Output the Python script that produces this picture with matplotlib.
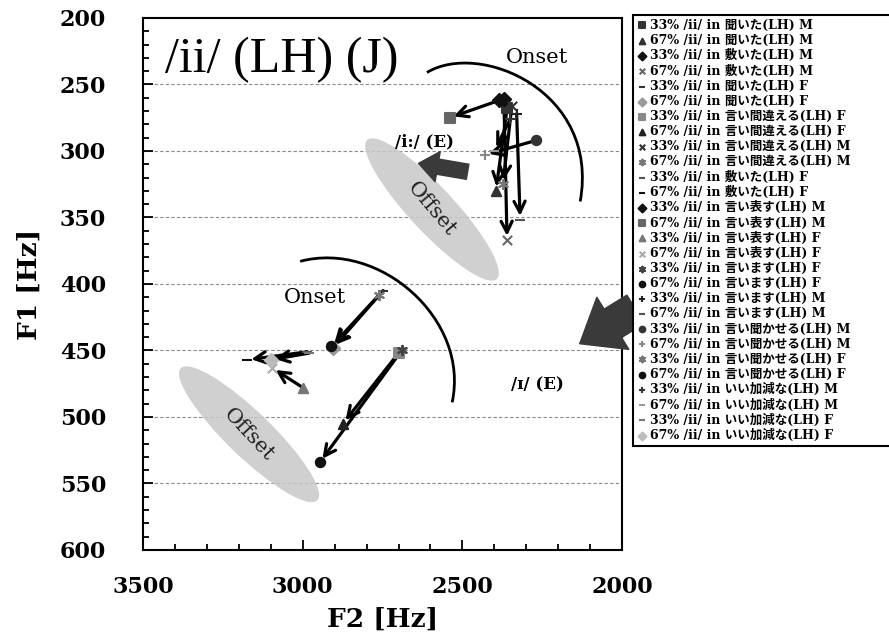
import matplotlib.pyplot as plt
from matplotlib.path import Path
from matplotlib.patches import PathPatch, Ellipse
from matplotlib.transforms import ScaledTranslation

# legend order: (label, F2, F1)
labels = [
    '33% /ii/ in 聞いた(LH) M', '67% /ii/ in 聞いた(LH) M',
    '33% /ii/ in 敷いた(LH) M', '67% /ii/ in 敷いた(LH) M',
    '33% /ii/ in 聞いた(LH) F', '67% /ii/ in 聞いた(LH) F',
    '33% /ii/ in 言い間違える(LH) F', '67% /ii/ in 言い間違える(LH) F',
    '33% /ii/ in 言い間違える(LH) M', '67% /ii/ in 言い間違える(LH) M',
    '33% /ii/ in 敷いた(LH) F', '67% /ii/ in 敷いた(LH) F',
    '33% /ii/ in 言い表す(LH) M', '67% /ii/ in 言い表す(LH) M',
    '33% /ii/ in 言い表す(LH) F', '67% /ii/ in 言い表す(LH) F',
    '33% /ii/ in 言います(LH) F', '67% /ii/ in 言います(LH) F',
    '33% /ii/ in 言います(LH) M', '67% /ii/ in 言います(LH) M',
    '33% /ii/ in 言い聞かせる(LH) M', '67% /ii/ in 言い聞かせる(LH) M',
    '33% /ii/ in 言い聞かせる(LH) F', '67% /ii/ in 言い聞かせる(LH) F',
    '33% /ii/ in いい加減な(LH) M', '67% /ii/ in いい加減な(LH) M',
    '33% /ii/ in いい加減な(LH) F', '67% /ii/ in いい加減な(LH) F',
]
f2 = [2360, 2395, 2370, 2360, 2748, 2905, 2700, 2874, 2345, 2373,
      2985, 3174, 2385, 2540, 2999, 3096, 2690, 2946, 2330, 2319,
      2268, 2430, 2760, 2910, 2350, 2400, 2980, 3100]
f1 = [268, 330, 261, 367, 405, 448, 452, 505, 266, 325,
      451, 457, 262, 275, 478, 463, 450, 534, 272, 352,
      292, 303, 408, 447, 276, 300, 452, 457]

markers = ['s', '^', 'D', 'x', '_', 'D', 's', '^', 'x', (6, 2, 0),
           '_', '_', 'D', 's', '^', 'x', (6, 2, 0), 'o', '+', '_',
           'o', '+', (6, 2, 0), 'o', '+', '_', '_', 'D']
colors = ['#333333', '#333333', '#111111', '#666666', '#333333', '#999999',
          '#888888', '#222222', '#333333', '#777777', '#555555', '#111111',
          '#111111', '#666666', '#777777', '#aaaaaa', '#444444', '#111111',
          '#222222', '#555555', '#333333', '#888888', '#777777', '#111111',
          '#333333', '#999999', '#777777', '#bbbbbb']

serif = ['DejaVu Serif', 'Noto Sans CJK JP']

fig = plt.figure(figsize=(8.89, 6.41), dpi=100)
ax = fig.add_axes([0.1609, 0.142, 0.5388, 0.830])

ax.set_xlim(3500, 2000)
ax.set_ylim(600, 200)
for g in range(250, 600, 50):
    ax.axhline(g, color='#8a8a8a', lw=0.8, ls=(0, (3, 2)), zorder=0)

# offset ellipses (size in inches, centred on data point)
for cx, cy, ang in [(2595, 344, -47), (3168, 513, -44)]:
    tr = fig.dpi_scale_trans + ScaledTranslation(cx, cy, ax.transData)
    ax.add_patch(Ellipse((0, 0), 1.9, 0.45, angle=ang, transform=tr,
                         fc='#c8c8c8', ec='none', alpha=0.85, zorder=1))
    ax.text(cx, cy, 'Offset', rotation=ang - 3, ha='center', va='center',
            fontsize=15, family='DejaVu Serif', color='#222222', zorder=2)

# onset arcs
arcs = [[(2611, 241), (2445, 217), (2069, 255), (2131, 338)],
        [(3008, 383), (2758, 367), (2476, 427), (2532, 489)]]
for pts in arcs:
    p = Path(pts, [Path.MOVETO, Path.CURVE4, Path.CURVE4, Path.CURVE4])
    ax.add_patch(PathPatch(p, fc='none', ec='black', lw=2, zorder=3))
ax.text(2266, 230, 'Onset', ha='center', va='center', fontsize=15,
        family='DejaVu Serif')
ax.text(2961, 410, 'Onset', ha='center', va='center', fontsize=15,
        family='DejaVu Serif')

# movement arrows 33% -> 67%
for i in range(0, len(f2), 2):
    ax.annotate('', xy=(f2[i + 1], f1[i + 1]), xytext=(f2[i], f1[i]),
                arrowprops=dict(arrowstyle='->', lw=2.3, color='black',
                                mutation_scale=20, shrinkA=0, shrinkB=3),
                zorder=5)

for x, y, m, c, lab in zip(f2, f1, markers, colors, labels):
    ax.scatter(x, y, marker=m, s=45, color=c, label=lab, zorder=6, linewidths=1.5)

# English reference vowels
ax.annotate('', xy=(2646, 309), xytext=(2475, 316),
            arrowprops=dict(arrowstyle='simple,head_length=0.7,head_width=1.1,tail_width=0.55',
                            fc='#3a3a3a', ec='#3a3a3a', mutation_scale=20), zorder=4)
ax.text(2620, 293, '/i:/ (E)', ha='center', va='center', fontsize=12,
        family='DejaVu Serif', weight='bold')
ax.annotate('', xy=(2140, 446), xytext=(1950, 418),
            arrowprops=dict(arrowstyle='simple,head_length=0.7,head_width=1.1,tail_width=0.6',
                            fc='#3a3a3a', ec='#3a3a3a', mutation_scale=40),
            zorder=4, annotation_clip=False)
ax.text(2266, 476, '/ɪ/ (E)', ha='center', va='center', fontsize=12,
        family='DejaVu Serif', weight='bold')

ax.text(3431, 241, '/ii/ (LH) (J)', ha='left', va='baseline', fontsize=36,
        family='Liberation Serif')

ax.set_xticks([3500, 3000, 2500, 2000])
ax.set_xticks(range(2000, 3501, 100), minor=True)
ax.set_yticks(range(200, 601, 50))
ax.set_yticks(range(200, 601, 10), minor=True)
ax.tick_params(which='both', direction='in', top=False, right=False, width=1.3)
ax.tick_params(which='major', length=7)
ax.tick_params(which='minor', length=4)
ax.tick_params(axis='x', which='major', pad=18.7)
ax.tick_params(axis='y', which='major', pad=26.6)
for t in ax.get_xticklabels() + ax.get_yticklabels():
    t.set_family('DejaVu Serif')
    t.set_weight('bold')
    t.set_fontsize(16)
for s in ax.spines.values():
    s.set_linewidth(1.5)
ax.set_xlabel('F2 [Hz]', family='DejaVu Serif', weight='bold', fontsize=19)
ax.set_ylabel('F1 [Hz]', family='DejaVu Serif', weight='bold', fontsize=19)
ax.xaxis.set_label_coords(0.5, -0.107)
ax.yaxis.set_label_coords(-0.211, 0.5)

leg = fig.legend(loc='upper left', bbox_to_anchor=(633 / 889, 0.3, 0.32, 1 - 15 / 641 - 0.3),
                 mode='expand', borderaxespad=0,
                 prop={'family': serif, 'weight': 'bold', 'size': 9},
                 handlelength=0.8, handletextpad=0.3, borderpad=0.3,
                 labelspacing=0.17, fancybox=False, edgecolor='black',
                 framealpha=1, markerscale=0.6)
leg.get_frame().set_linewidth(1.5)

fig.savefig('out.png', dpi=100)
